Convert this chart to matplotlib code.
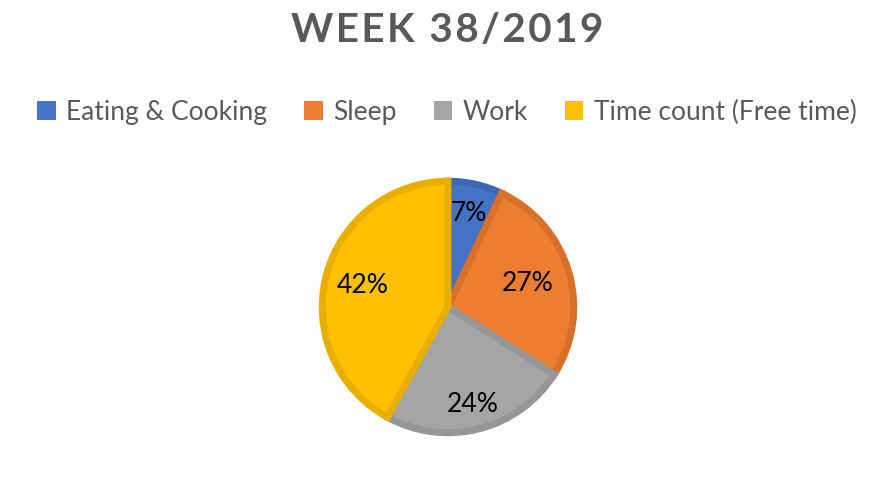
import matplotlib
matplotlib.use("Agg")
import matplotlib.pyplot as plt
import numpy as np
from matplotlib.patches import Patch

categories = ["Eating & Cooking", "Sleep", "Work", "Time count (Free time)"]
values = [7, 27, 24, 42]
colors = ["#4472C4", "#ED7D31", "#A5A5A5", "#FFC000"]
edge_colors = ["#3D67B3", "#D8702A", "#969696", "#E8AE00"]
label_dist = [0.74, 0.64, 0.78, 0.68]
title = "WEEK 38/2019"

plt.rcParams['font.family'] = ['Lato', 'DejaVu Sans']

W, H = 894, 484
fig = plt.figure(figsize=(W / 100, H / 100), dpi=100)
fig.patch.set_facecolor("white")

cx, cy, r = 448, 307, 129
ax = fig.add_axes([(cx - r) / W, (H - cy - r) / H, 2 * r / W, 2 * r / H])
wedges, _ = ax.pie(values, colors=colors, startangle=90, counterclock=False,
                   radius=0.975, wedgeprops=dict(linewidth=0))
for w, ec in zip(wedges, edge_colors):
    w.set_edgecolor(ec)
    w.set_linewidth(5)
    w.set_joinstyle("miter")
ax.set_xlim(-1.0, 1.0)
ax.set_ylim(-1.0, 1.0)
ax.set_aspect("auto")
ax.axis("off")

total = sum(values)
for w, v, d in zip(wedges, values, label_dist):
    ang = np.deg2rad((w.theta1 + w.theta2) / 2)
    ax.text(d * np.cos(ang), d * np.sin(ang), f"{round(100 * v / total)}%",
            ha="center", va="center", fontsize=19, color="#000000")

fig.text(0.5, 1 - 31 / H, "\u200a".join(title),
         ha="center", va="center", fontsize=29, fontweight="bold", color="#595959")

handles = [Patch(facecolor=c, edgecolor="none") for c in colors]
leg = fig.legend(handles, categories, loc="center", ncol=4,
                 bbox_to_anchor=(0.5, 1 - 112 / H), frameon=False,
                 fontsize=19, handlelength=0.7, handleheight=0.7,
                 handletextpad=0.4, columnspacing=1.4, labelcolor="#595959")

fig.savefig("out.png", dpi=100, facecolor="white")
